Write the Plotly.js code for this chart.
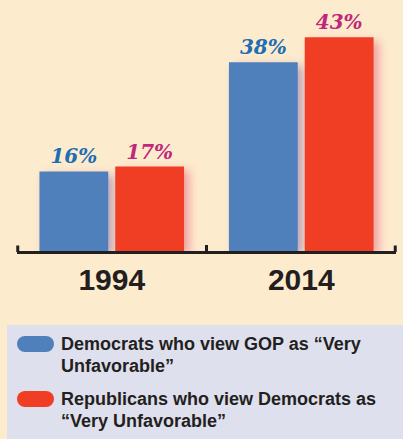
<!DOCTYPE html>
<html>
<head>
<meta charset="utf-8">
<script src="https://cdn.plot.ly/plotly-3.0.1.min.js"></script>
<style>
  html, body { margin: 0; padding: 0; background: #FDEBCE; }
  #chart { width: 403px; height: 439px; }
  .barlayer .trace:nth-child(1) .point path { filter: drop-shadow(5px 4px 5px rgba(110, 70, 160, 0.45)); }
  .barlayer .trace:nth-child(2) .point path { filter: drop-shadow(5px 4px 5px rgba(225, 60, 100, 0.45)); }
</style>
</head>
<body>
<div id="chart"></div>
<script>
// ---- data ----
const years = ['1994', '2014'];
const democratsVeryUnfav = [16, 38];
const republicansVeryUnfav = [17, 43];
const legendLines = [
  ['Democrats who view GOP as \u201cVery', 'Unfavorable\u201d'],
  ['Republicans who view Democrats as', '\u201cVery Unfavorable\u201d']
];

// ---- colours / geometry helpers ----
const blue = '#4F80BC', red = '#EF3E23';
const W = 403, H = 439;
const M = { l: 17, r: 7, t: 5, b: 188 };
const pw = W - M.l - M.r, ph = H - M.t - M.b;
const px = x => (x - M.l) / pw;
const py = y => (H - M.b - y) / ph;

function pill(x0, y0, x1, y1, color) {
  const r = (y1 - y0) / 2;
  return [
    { type: 'rect', xref: 'paper', yref: 'paper', x0: px(x0 + r), x1: px(x1 - r), y0: py(y1), y1: py(y0), fillcolor: color, line: { width: 0 } },
    { type: 'circle', xref: 'paper', yref: 'paper', x0: px(x0), x1: px(x0 + 2 * r), y0: py(y1), y1: py(y0), fillcolor: color, line: { width: 0 } },
    { type: 'circle', xref: 'paper', yref: 'paper', x0: px(x1 - 2 * r), x1: px(x1), y0: py(y1), y1: py(y0), fillcolor: color, line: { width: 0 } }
  ];
}
function endTick(xp) {
  return { type: 'line', xref: 'paper', yref: 'paper', x0: xp, x1: xp, y0: py(252), y1: py(245.5),
    line: { color: '#231F20', width: 3 } };
}

const labelFont = { family: 'DejaVu Serif', size: 20, style: 'italic', weight: 'bold' };

const traces = [
  {
    type: 'bar', x: years, y: democratsVeryUnfav, name: legendLines[0].join(' '),
    marker: { color: blue, line: { width: 0 } },
    texttemplate: '%{y}%', textposition: 'outside', cliponaxis: false,
    textfont: Object.assign({ color: '#1F6DB3' }, labelFont),
    hoverinfo: 'skip'
  },
  {
    type: 'bar', x: years, y: republicansVeryUnfav, name: legendLines[1].join(' '),
    marker: { color: red, line: { width: 0 } },
    texttemplate: '%{y}%', textposition: 'outside', cliponaxis: false,
    textfont: Object.assign({ color: '#C0287A' }, labelFont),
    hoverinfo: 'skip'
  }
];

const legendFont = { family: 'Liberation Sans, Arial, sans-serif', size: 18, color: '#231F20', weight: 'bold' };
const lineBaselines = [[350.7, 372.3], [405, 427.3]];
const legendAnn = [];
legendLines.forEach((lines, i) => {
  lines.forEach((t, j) => {
    legendAnn.push({ xref: 'paper', yref: 'paper', x: px(58.5), y: py(lineBaselines[i][j] - 6.3),
      xanchor: 'left', yanchor: 'middle', align: 'left', showarrow: false, text: t, font: legendFont });
  });
});

const layout = {
  width: W, height: H,
  margin: M,
  paper_bgcolor: '#FDEBCE',
  plot_bgcolor: 'rgba(0,0,0,0)',
  showlegend: false,
  barmode: 'group',
  bargap: 0.2,
  bargroupgap: 0.092,
  xaxis: {
    type: 'category', range: [-0.5, 1.5], fixedrange: true,
    showline: true, linecolor: '#231F20', linewidth: 3,
    ticks: 'inside', tickson: 'boundaries', ticklen: 6, tickwidth: 3, tickcolor: '#231F20',
    tickfont: { family: 'Liberation Sans, Arial, sans-serif', size: 30, color: '#231F20', weight: 'bold' },
    showgrid: false, zeroline: false
  },
  yaxis: {
    range: [0, 49.5], visible: false, fixedrange: true, showgrid: false, zeroline: false
  },
  shapes: [
    { type: 'rect', xref: 'paper', yref: 'paper', layer: 'below',
      x0: px(7), x1: px(410), y0: py(445), y1: py(325), fillcolor: '#DFE0EE', line: { width: 0 } },
    endTick(0.002), endTick(0.998)
  ].concat(pill(17, 336, 54, 352, blue)).concat(pill(17, 391, 54, 407, red)),
  annotations: legendAnn
};

Plotly.newPlot('chart', traces, layout, { staticPlot: true, displayModeBar: false });
</script>
</body>
</html>
